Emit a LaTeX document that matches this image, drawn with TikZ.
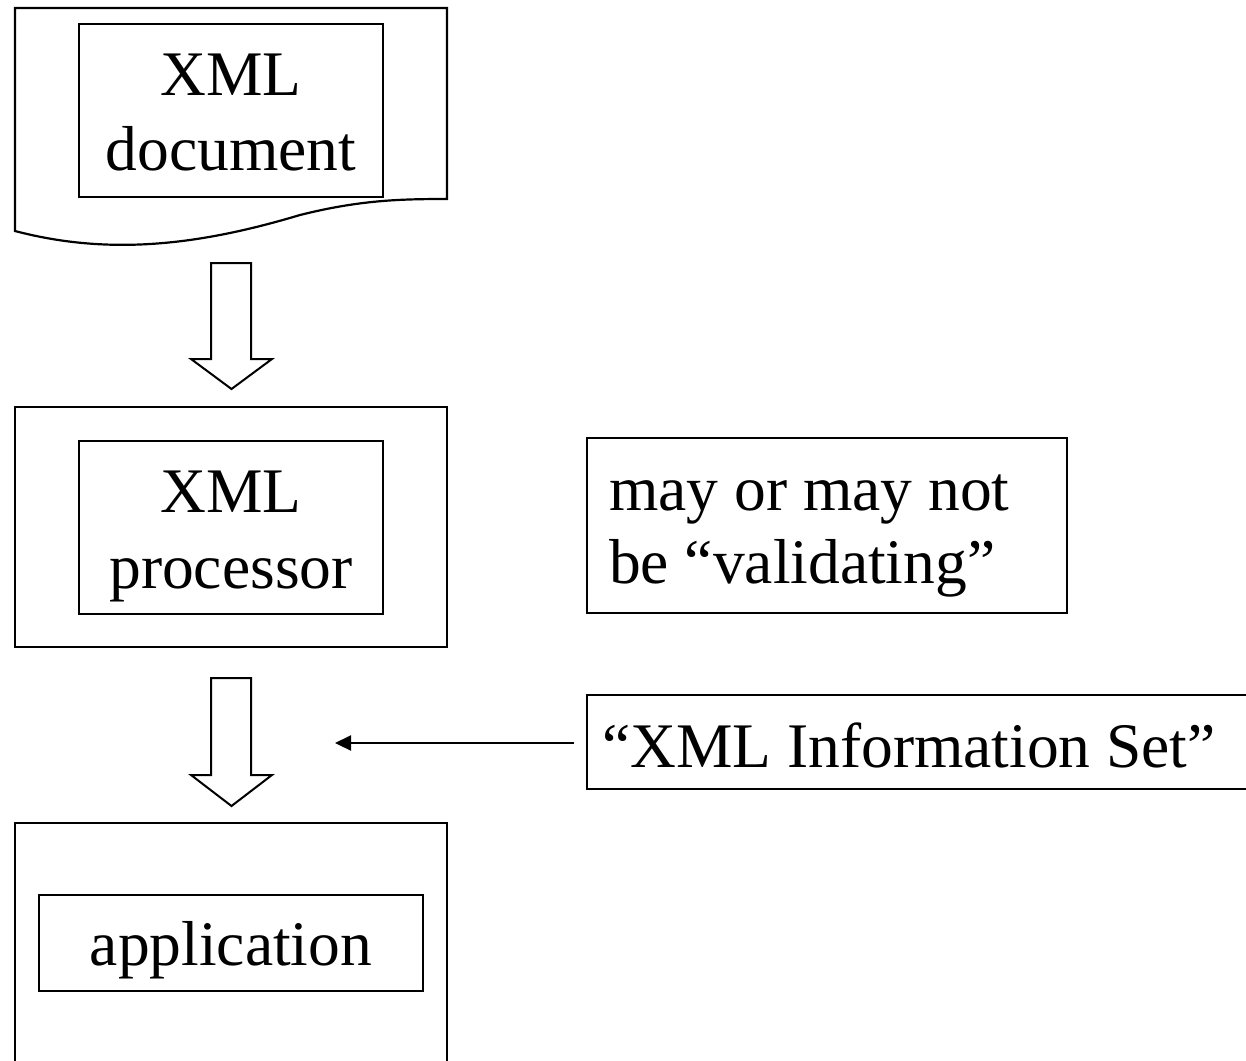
\documentclass[tikz,border=0pt]{standalone}
\usepackage{fontspec}
\setmainfont{Liberation Serif}
\usetikzlibrary{arrows.meta}
\begin{document}
\begin{tikzpicture}[x=1pt,y=-1pt,line width=2.2pt,
  box/.style={draw,rectangle,inner sep=0pt,line width=2.2pt},
  txt/.style={inner sep=0pt,anchor=base,font=\fontsize{63.5}{75}\selectfont},
  ltxt/.style={txt,anchor=base west},
  bigarrow/.style={draw,line width=2pt,fill=white,line join=miter},
  pointer/.style={-{Triangle[length=16pt,width=15pt]},line width=2.2pt}]
\useasboundingbox (0,0) rectangle (1246,1060);
\clip (0,0) rectangle (1246,1060);
% document shape
\draw[line join=miter] (15,231) -- (15,8) -- (447,8) -- (447,199)
  .. controls (400,199) and (360,200) .. (300,215)
  .. controls (200,245) and (110,256) .. (15,231) -- cycle;
\node[box,minimum width=304pt,minimum height=173pt] (docin) at (231,110.5) {};
\node[txt] (t1) at (231,95) {XML};
\node[txt] (t2) at (231,170) {document};
% arrow 1
\draw[bigarrow] (211,263) -- (251,263) -- (251,359) -- (272,359) -- (231.5,389)
  -- (191,359) -- (211,359) -- cycle;
% processor
\node[box,minimum width=432pt,minimum height=240pt] (procout) at (231,527) {};
\node[box,minimum width=304pt,minimum height=173pt] (procin) at (231,527.5) {};
\node[txt] (t3) at (231,512) {XML};
\node[txt] (t4) at (231,588) {processor};
% note
\node[box,minimum width=480pt,minimum height=175pt] (note) at (827,525.5) {};
\node[ltxt] (t5) at (608,510) {may or may not};
\node[ltxt] (t6) at (608,583) {be “validating”};
% arrow 2
\draw[bigarrow] (211,678) -- (251,678) -- (251,775) -- (272,775) -- (231.5,806)
  -- (191,775) -- (211,775) -- cycle;
% info set
\node[box,minimum width=670pt,minimum height=94pt] (info) at (922,742) {};
\node[ltxt] (t7) at (601,767) {“XML Information Set”};
\coordinate (tip) at (335,743);
\draw[pointer] (info.west |- tip) ++(-12,0) coordinate (src) -- (tip);
% application
\node[box,minimum width=432pt,minimum height=260pt] (appout) at (231,953) {};
\node[box,minimum width=384pt,minimum height=96pt] (appin) at (231,943) {};
\node[txt] (t8) at (231,965) {application};
\end{tikzpicture}
\end{document}
